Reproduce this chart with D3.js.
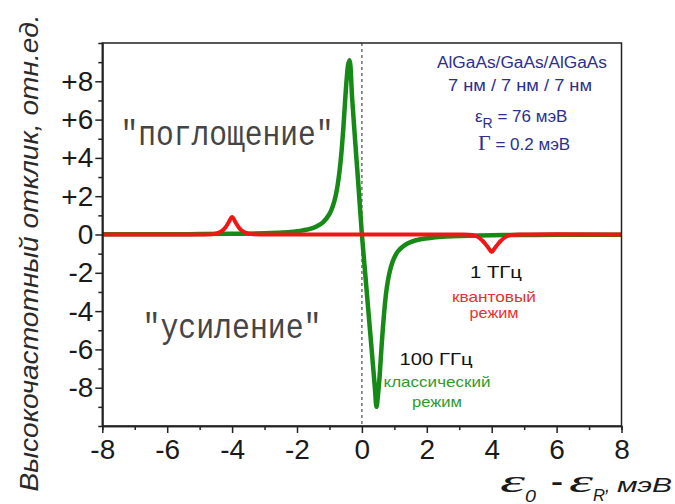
<!DOCTYPE html>
<html>
<head>
<meta charset="utf-8">
<script src="https://cdn.jsdelivr.net/npm/d3@7"></script>
<style>
  body { margin: 0; background: #fff; }
  svg { display: block; }
</style>
</head>
<body>
<svg id="chart" width="675" height="504"></svg>
<script>
// Detuning ε0 − εR (meV) and the high-frequency response (arb. units)
const detuningTicks = [-8, -6, -4, -2, 0, 2, 4, 6, 8];
const detuningTickLabels = ["-8", "-6", "-4", "-2", "0", "2", "4", "6", "8"];
const detuningMinor = [-7, -5, -3, -1, 1, 3, 5, 7];
const responseTicks = [8, 6, 4, 2, 0, -2, -4, -6, -8];
const responseTickLabels = ["+8", "+6", "+4", "+2", "0", "-2", "-4", "-6", "-8"];
const responseMinor = [9, 7, 5, 3, 1, -1, -3, -5, -7, -9];

// 100 GHz, classical regime (green)
const classicalDetuning = [-8, -6, -5, -4, -3, -2.6, -2.2, -1.9, -1.6, -1.4, -1.2, -1.0, -0.9, -0.8, -0.72,
  -0.64, -0.57, -0.52, -0.47, -0.42, -0.38, -0.3, -0.2, -0.1, 0, 0.1, 0.2, 0.3, 0.4, 0.45,
  0.5, 0.55, 0.6, 0.67, 0.75, 0.85, 0.95, 1.1, 1.3, 1.5, 1.8, 2.2, 2.6, 3.0, 4.0, 5.0, 6.0, 8.0];
const classicalResponse = [0.01, 0.014, 0.02, 0.034, 0.064, 0.09, 0.13, 0.19, 0.29, 0.42, 0.63, 1.07, 1.46, 2.09, 2.9,
  4.1, 5.6, 6.9, 8.1, 8.9, 9.1, 7.1, 4.7, 2.4, 0, -2.0, -4.0, -6.0, -8.0, -9.0,
  -8.3, -7.3, -6.0, -4.4, -3.0, -2.0, -1.4, -0.9, -0.58, -0.4, -0.25, -0.16, -0.11, -0.08, -0.04, -0.025, -0.015, -0.008];

// 1 THz, quantum regime (red)
const quantumDetuning = [-8, -5, -4.6, -4.45, -4.3, -4.2, -4.1, -4.0, -3.9, -3.8, -3.7, -3.55, -3.4, -3,
  3, 3.4, 3.55, 3.7, 3.8, 3.9, 4.0, 4.1, 4.2, 4.3, 4.45, 4.6, 5, 8];
const quantumResponse = [0, 0, 0.02, 0.07, 0.2, 0.38, 0.65, 0.92, 0.65, 0.38, 0.2, 0.07, 0.02, 0,
  0, -0.03, -0.1, -0.3, -0.48, -0.7, -0.92, -0.7, -0.48, -0.3, -0.1, -0.03, 0, 0];

const svg = d3.select("#chart");
svg.append("rect").attr("width", 675).attr("height", 504).attr("fill", "#fff");

const x = d3.scaleLinear().domain([-8, 8]).range([102.3, 621.5]);
const y = d3.scaleLinear().domain([-10, 10]).range([426, 43]);

const sans = "'Liberation Sans', Arial, sans-serif";
const serif = "'Liberation Serif', 'Times New Roman', serif";
const mono = "'Liberation Mono', 'Courier New', monospace";

// zero-detuning guide
svg.append("line")
  .attr("x1", x(0)).attr("x2", x(0))
  .attr("y1", y(10)).attr("y2", y(-10))
  .attr("stroke", "#7a7a7a").attr("stroke-width", 1.6)
  .attr("stroke-dasharray", "3,3");

// curves
const line = d3.line().x(d => x(d[0])).y(d => y(d[1])).curve(d3.curveCatmullRom.alpha(0.5));
const classical = classicalDetuning.map((d, i) => [d, classicalResponse[i]]);
const quantum = quantumDetuning.map((d, i) => [d, quantumResponse[i]]);

svg.append("path").datum(classical).attr("d", line)
  .attr("fill", "none").attr("stroke", "#168a16").attr("stroke-width", 4.5)
  .attr("stroke-linejoin", "round");
svg.append("path").datum(quantum).attr("d", line)
  .attr("fill", "none").attr("stroke", "#f01616").attr("stroke-width", 4)
  .attr("stroke-linejoin", "round");

// frame
svg.append("rect")
  .attr("x", x(-8)).attr("y", y(10))
  .attr("width", x(8) - x(-8)).attr("height", y(-10) - y(10))
  .attr("fill", "none").attr("stroke", "#222").attr("stroke-width", 1.5);

// axes
const styleAxis = g => {
  g.select(".domain").attr("stroke", "#222").attr("stroke-width", 1.5);
  g.selectAll(".tick line").attr("stroke", "#222").attr("stroke-width", 1.5);
  g.selectAll(".tick text").attr("fill", "#1a1a1a").style("font-family", sans).style("font-size", "28px");
};

svg.append("g").attr("transform", `translate(0,${y(-10)})`)
  .call(d3.axisBottom(x).tickValues(detuningMinor).tickSize(4).tickFormat(""))
  .call(styleAxis);
svg.append("g").attr("transform", `translate(0,${y(-10)})`)
  .call(d3.axisBottom(x).tickValues(detuningTicks).tickSize(7).tickPadding(6).tickSizeOuter(0)
    .tickFormat((d, i) => detuningTickLabels[i]))
  .call(styleAxis);

svg.append("g").attr("transform", `translate(${x(-8)},0)`)
  .call(d3.axisLeft(y).tickValues(responseMinor).tickSize(4).tickFormat(""))
  .call(styleAxis);
svg.append("g").attr("transform", `translate(${x(-8)},0)`)
  .call(d3.axisLeft(y).tickValues(responseTicks).tickSize(7).tickPadding(2).tickSizeOuter(0)
    .tickFormat((d, i) => responseTickLabels[i]))
  .call(styleAxis);

// y-axis title
svg.append("text")
  .attr("transform", "translate(38,253) rotate(-90)")
  .attr("text-anchor", "middle")
  .attr("font-family", sans).attr("font-style", "italic").attr("font-size", 26)
  .attr("fill", "#2a2a2a")
  .attr("textLength", 477).attr("lengthAdjust", "spacingAndGlyphs")
  .text("Высокочастотный отклик, отн.ед.");

// x-axis title: ε0 − εR, мэВ
const xt = svg.append("g").attr("fill", "#1a1a1a");
const piece = (txt, px, py, font, size, w, style) => xt.append("text")
  .attr("x", px).attr("y", py).attr("font-family", font).attr("font-size", size)
  .attr("font-style", style || "italic")
  .attr("textLength", w).attr("lengthAdjust", "spacingAndGlyphs").text(txt);
piece("ε", 500, 492, serif, 32, 25);
piece("0", 525, 502, sans, 16, 11);
piece("-", 551, 490, sans, 24, 12, "normal").attr("font-weight", "bold");
piece("ε", 569, 492, serif, 32, 24);
piece("R", 593, 501, sans, 16, 12);
piece(",", 605, 492, sans, 20, 5);
piece("мэВ", 617, 492, sans, 21, 55);

// annotations
const note = (txt, cx, by, font, size, w, color) => svg.append("text")
  .attr("x", cx).attr("y", by).attr("text-anchor", "middle")
  .attr("font-family", font).attr("font-size", size).attr("fill", color)
  .attr("textLength", w).attr("lengthAdjust", "spacingAndGlyphs").text(txt);

note("\"поглощение\"", 227, 145, mono, 35, 213, "#454545");
note("\"усиление\"", 232, 338, mono, 35, 179, "#454545");

const blue = "#2b2f8f";
note("AlGaAs/GaAs/AlGaAs", 522, 68, sans, 16, 170, blue);
note("7 нм / 7 нм / 7 нм", 520, 91, sans, 16, 144, blue);

const eps = svg.append("text").attr("x", 475).attr("y", 122)
  .attr("font-family", sans).attr("font-size", 17).attr("fill", blue);
eps.append("tspan").text("ε");
eps.append("tspan").attr("dy", 6).attr("font-size", 14).text("R");
eps.append("tspan").attr("dy", -6).text(" = 76 мэВ");

const gam = svg.append("text").attr("x", 478).attr("y", 150)
  .attr("font-family", sans).attr("font-size", 17).attr("fill", blue);
gam.append("tspan").attr("font-family", serif).attr("font-size", 22).text("Γ");
gam.append("tspan").text(" = 0.2 мэВ");

note("1 ТГц", 496, 278, sans, 17, 52, "#111");
note("квантовый", 494, 302, sans, 15, 84, "#e8302c");
note("режим", 494, 318, sans, 15, 49, "#e8302c");

note("100 ГГц", 436, 365, sans, 17, 73, "#111");
note("классический", 437, 387, sans, 15, 107, "#2e9a2e");
note("режим", 437, 407, sans, 15, 50, "#2e9a2e");
</script>
</body>
</html>
